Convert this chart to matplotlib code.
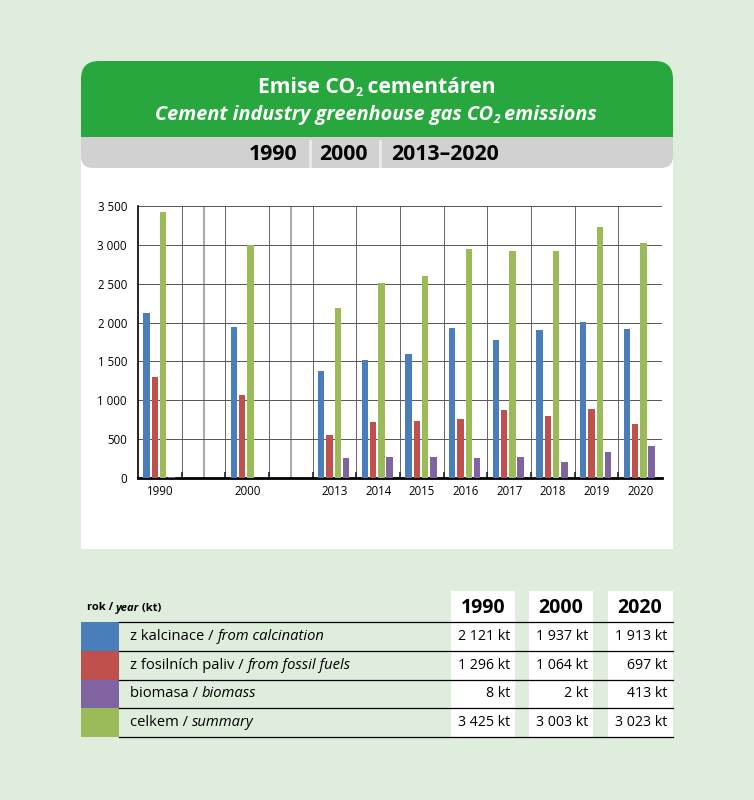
import matplotlib.pyplot as plt
from matplotlib.patches import FancyBboxPatch, Rectangle
import numpy as np

plt.rcParams['font.family'] = ['Open Sans', 'DejaVu Sans']

# chart data (kt)
years = ['1990', '', '2000', '', '2013', '2014', '2015', '2016', '2017', '2018', '2019', '2020']
calcination = [2121, 0, 1937, 0, 1378, 1515, 1592, 1930, 1776, 1908, 2011, 1913]
fossil = [1296, 0, 1064, 0, 556, 718, 730, 762, 869, 804, 886, 697]
biomass = [8, 0, 2, 0, 257, 272, 276, 252, 274, 205, 329, 413]
total = [3425, 0, 3003, 0, 2191, 2505, 2598, 2944, 2919, 2917, 3226, 3023]

# table data
tab_years = ['1990', '2000', '2020']
tab_rows = [('z kalcinace / ', 'from calcination'),
            ('z fosilních paliv / ', 'from fossil fuels'),
            ('biomasa / ', 'biomass'),
            ('celkem / ', 'summary')]
tab_values = [['2 121 kt', '1 937 kt', '1 913 kt'],
              ['1 296 kt', '1 064 kt', '697 kt'],
              ['8 kt', '2 kt', '413 kt'],
              ['3 425 kt', '3 003 kt', '3 023 kt']]

c_blue = '#4a7ebb'
c_red = '#c0504d'
c_green = '#9bbb59'
c_purple = '#8064a2'
row_colors = [c_blue, c_red, c_purple, c_green]

W, H = 754, 800
fig = plt.figure(figsize=(W / 100, H / 100), dpi=100)
fig.patch.set_facecolor('#dfeedc')

# background axes in pixel units
bg = fig.add_axes([0, 0, 1, 1])
bg.set_xlim(0, W)
bg.set_ylim(H, 0)
bg.axis('off')
renderer = fig.canvas.get_renderer()


def seq(x, y, pieces, align='left', color='black', va='center'):
    # pieces: (text, fontsize, weight, style, dy)
    items = []
    cx = x
    for s, fs, wt, st, dy in pieces:
        t = bg.text(cx, y + dy, s, fontsize=fs, fontweight=wt, style=st,
                    color=color, ha='left', va=va)
        cx += t.get_window_extent(renderer).width
        items.append(t)
    if align == 'center':
        shift = (cx - x) / 2
        for t in items:
            t.set_x(t.get_position()[0] - shift)
    return items


bg.add_patch(Rectangle((81, 140), 592, 409, facecolor='white', edgecolor='none'))
bg.add_patch(FancyBboxPatch((81, 100), 592, 68, boxstyle='round,pad=0,rounding_size=12',
                            facecolor='#d1d1d1', edgecolor='none'))
bg.add_patch(FancyBboxPatch((81, 61), 592, 96, boxstyle='round,pad=0,rounding_size=18',
                            facecolor='#28a73e', edgecolor='none'))
bg.add_patch(Rectangle((81, 137), 592, 22, facecolor='#d1d1d1', edgecolor='none'))

seq(377, 93, [('Emise CO', 15.2, 'bold', 'normal', 0),
              ('2', 9, 'bold', 'normal', 3),
              (' cementáren', 15.2, 'bold', 'normal', 0)],
    align='center', color='white', va='baseline')
seq(376, 120, [('Cement industry greenhouse gas CO', 14.3, 'bold', 'italic', 0),
               ('2', 8.5, 'bold', 'italic', 3),
               (' emissions', 14.3, 'bold', 'italic', 0)],
    align='center', color='white', va='baseline')
bg.text(273.5, 160, '1990', fontsize=15.3, fontweight='bold', ha='center', va='baseline')
bg.text(343, 160, '2000', fontsize=15.3, fontweight='bold', ha='center', va='baseline')
bg.text(445.5, 160, '2013–2020', fontsize=15.3, fontweight='bold', ha='center', va='baseline')
for sx in [310, 380]:
    bg.plot([sx, sx], [141, 166], color='#ebebeb', lw=2)

# table
seq(87, 608, [('rok / ', 8, 'bold', 'normal', 0),
              ('year', 8, 'bold', 'italic', 0),
              (' (kt)', 8, 'bold', 'normal', 0)])

col_left = [451, 529, 608]
col_w = 64
for i, yr in enumerate(tab_years):
    bg.add_patch(Rectangle((col_left[i], 591), col_w + (1 if i == 2 else 0), 146,
                           facecolor='white', edgecolor='none'))
    bg.text(col_left[i] + col_w / 2, 613, yr, fontsize=14, fontweight='bold',
            ha='center', va='baseline')

row_top = 622
row_h = 28.75
for r, (cz, en) in enumerate(tab_rows):
    y0 = row_top + r * row_h
    bg.add_patch(Rectangle((81, y0), 38, row_h, facecolor=row_colors[r], edgecolor='none'))
    seq(130, y0 + row_h / 2, [(cz, 10.6, 'normal', 'normal', 0),
                              (en, 10.6, 'normal', 'italic', 0)])
    for i in range(3):
        bg.text(col_left[i] + col_w - 5, y0 + row_h / 2, tab_values[r][i], fontsize=10.2,
                ha='right', va='center')
for r in range(5):
    y = row_top + r * row_h
    bg.plot([119, 673], [y, y], color='black', lw=0.9)

# chart
ax = fig.add_axes([138 / W, 1 - 478 / H, 524 / W, 272 / H])
x = np.arange(len(years))
bw = 0.15
step = 0.19
off = -0.02
ax.bar(x + off - 1.5 * step, calcination, bw, color=c_blue, zorder=3)
ax.bar(x + off - 0.5 * step, fossil, bw, color=c_red, zorder=3)
ax.bar(x + off + 0.5 * step, total, bw, color=c_green, zorder=3)
ax.bar(x + off + 1.5 * step, biomass, bw, color=c_purple, zorder=3)

ax.set_xlim(-0.5, len(years) - 0.5)
ax.set_ylim(0, 3500)
yt = np.arange(0, 3501, 500)
ax.set_yticks(yt)
ax.set_yticklabels([f'{v:,}'.replace(',', ' ') for v in yt], fontsize=8.3)
ax.set_xticks(x)
ax.set_xticklabels(years, fontsize=8.3)
ax.tick_params(axis='x', length=0, pad=5)
ax.tick_params(axis='y', length=0, pad=8)
ax.set_xticks(np.arange(0.5, len(years) - 0.5), minor=True)
ax.tick_params(axis='x', which='minor', direction='in', length=4, width=1.2, color='#222222')
ax.grid(axis='y', color='#555555', lw=0.7, zorder=0)
for b in np.arange(0.5, len(years) - 0.5):
    ax.axvline(b, color='#666666', lw=0.7, zorder=1)
for b in [1.0, 3.0]:
    ax.axvline(b, color='#aaaaaa', lw=1.5, zorder=1)
for s in ['top', 'right']:
    ax.spines[s].set_visible(False)
ax.spines['left'].set_linewidth(1.2)
ax.spines['bottom'].set_linewidth(2)
ax.set_facecolor('white')

fig.savefig('out.png', dpi=100, facecolor=fig.get_facecolor())
